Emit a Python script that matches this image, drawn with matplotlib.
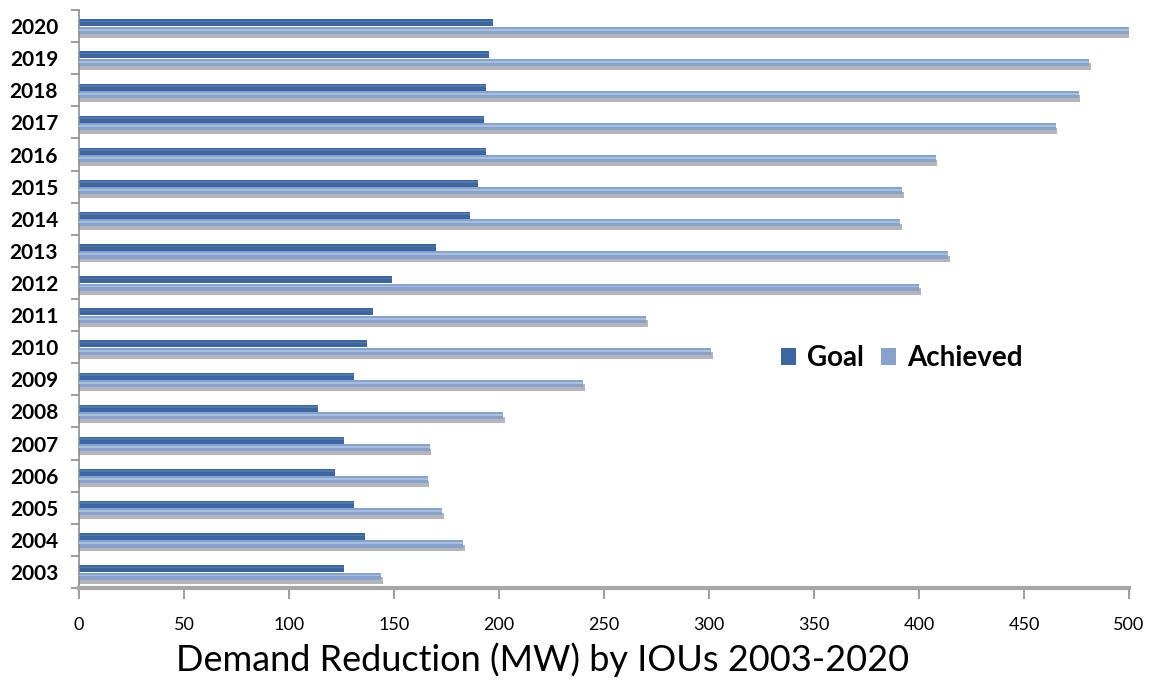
import matplotlib
matplotlib.use("Agg")
import matplotlib.pyplot as plt
from matplotlib.patches import Patch
import numpy as np

years = [2003, 2004, 2005, 2006, 2007, 2008, 2009, 2010, 2011, 2012,
         2013, 2014, 2015, 2016, 2017, 2018, 2019, 2020]
goal = [126, 136, 131, 122, 126, 114, 131, 137, 140, 149,
        170, 186, 190, 194, 193, 194, 195, 197]
achieved = [144, 183, 173, 166, 167, 202, 240, 301, 270, 400,
            414, 391, 392, 408, 465, 476, 481, 500]
series_names = ["Goal", "Achieved"]
xticks = list(range(0, 501, 50))
title = "Demand Reduction (MW) by IOUs 2003-2020"

plt.rcParams['font.family'] = ['Lato', 'DejaVu Sans']

GOAL_C = "#3B66A0"
ACH_C = "#87A2CD"
ACH_HI = "#A9BDDF"
SHADOW = "#B5B5B5"

fig = plt.figure(figsize=(11.49, 6.81), dpi=100)
ax = fig.add_axes([79/1149, 1-588/681, (1129-79)/1149, (588-10)/681])

y = np.arange(len(years))
h = 0.22
# shadow under achieved bars
ax.barh(y - 0.26, np.array(achieved) + 0.8, height=0.2, color=SHADOW, zorder=1, linewidth=0)
ax.barh(y - 0.13, achieved, height=h, color=ACH_C, zorder=2, linewidth=0)
ax.barh(y - 0.11, achieved, height=0.06, color=ACH_HI, zorder=3, linewidth=0)
ax.barh(y + 0.10, goal, height=h, color=GOAL_C, zorder=2, linewidth=0)
ax.barh(y + 0.14, goal, height=0.05, color="#5077AE", zorder=3, linewidth=0)

ax.set_xlim(0, 500)
ax.set_ylim(-0.5, len(years) - 0.5)

# y axis: major ticks at boundaries, labels at centers
ax.set_yticks(np.arange(-0.5, len(years), 1.0))
ax.set_yticklabels([])
ax.set_yticks(y, minor=True)
ax.set_yticklabels([str(v) for v in years], minor=True, fontsize=15, fontweight='bold')
ax.tick_params(axis='y', which='major', length=6, width=1.2, color="#8C8C8C", direction='out')
ax.tick_params(axis='y', which='minor', length=0, pad=15)

ax.set_xticks(xticks)
ax.set_xticklabels([str(v) for v in xticks], fontsize=13)
ax.tick_params(axis='x', length=8, width=1.2, color="#8C8C8C", direction='out', pad=13)

for s in ['top', 'right']:
    ax.spines[s].set_visible(False)
ax.spines['left'].set_color("#8C8C8C")
ax.spines['left'].set_linewidth(1.2)
ax.spines['bottom'].set_color("#A6A6A6")
ax.spines['bottom'].set_linewidth(3)

handles = [Patch(facecolor=GOAL_C, edgecolor='none'), Patch(facecolor=ACH_C, edgecolor='none')]
fig.legend(handles, series_names, loc='center left', bbox_to_anchor=(781/1149, 1-358/681),
           ncol=2, frameon=False, prop={'weight': 'bold', 'size': 20},
           handlelength=0.55, handleheight=0.55, handletextpad=0.4, columnspacing=0.6,
           borderpad=0, borderaxespad=0)

fig.text(543/1149, 1-660/681, title, fontsize=26, ha='center', va='center')

fig.savefig("out.png", dpi=100)
